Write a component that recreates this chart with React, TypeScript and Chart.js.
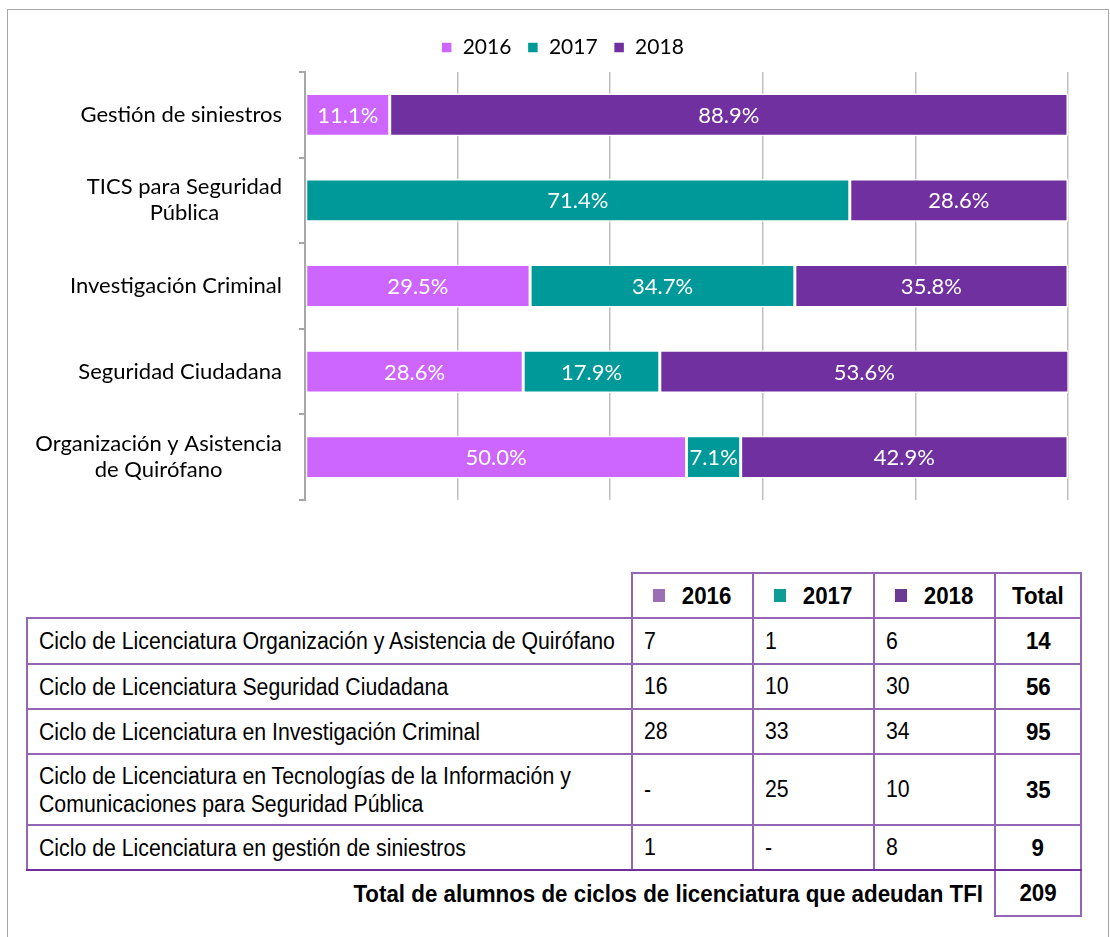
import React, { useEffect, useRef } from "react";
import { Chart, registerables } from "chart.js";

Chart.register(...registerables);

// ---------- Chart data ----------
const categories: string[][] = [
  ["Gestión de siniestros"],
  ["TICS para Seguridad", "Pública"],
  ["Investigación Criminal"],
  ["Seguridad Ciudadana"],
  ["Organización y Asistencia", "de Quirófano"],
];
const seriesNames = ["2016", "2017", "2018"];
const pct2016: (number | null)[] = [11.1, null, 29.5, 28.6, 50.0];
const pct2017: (number | null)[] = [null, 71.4, 34.7, 17.9, 7.1];
const pct2018: (number | null)[] = [88.9, 28.6, 35.8, 53.6, 42.9];
const seriesColors = ["#cc66ff", "#009999", "#7030a0"];
const xMin = 0;
const xMax = 100;
const xStep = 20;

// ---------- Table data ----------
const tableRowNames: string[][] = [
  ["Ciclo de Licenciatura Organización y Asistencia de Quirófano"],
  ["Ciclo de Licenciatura Seguridad Ciudadana"],
  ["Ciclo de Licenciatura en Investigación Criminal"],
  ["Ciclo de Licenciatura en Tecnologías de la Información y", "Comunicaciones para Seguridad Pública"],
  ["Ciclo de Licenciatura en gestión de siniestros"],
];
const count2016: (number | null)[] = [7, 16, 28, null, 1];
const count2017: (number | null)[] = [1, 10, 33, 25, null];
const count2018: (number | null)[] = [6, 30, 34, 10, 8];
const rowTotals = [14, 56, 95, 35, 9];
const grandTotalLabel = "Total de alumnos de ciclos de licenciatura que adeudan TFI";
const grandTotal = 209;
const headerSquareColors = ["#9c6fb4", "#0f9b96", "#6b3a91"];

const CHART_FONT = "Lato, 'Open Sans', sans-serif";
const TABLE_FONT = "'Liberation Sans', Arial, sans-serif";

const valueLabelsPlugin = {
  id: "valueLabels",
  afterDatasetsDraw(chart: any) {
    const ctx = chart.ctx;
    ctx.save();
    ctx.font = `22px ${CHART_FONT}`;
    ctx.fillStyle = "#ffffff";
    ctx.textAlign = "center";
    ctx.textBaseline = "middle";
    chart.data.datasets.forEach((ds: any, di: number) => {
      const meta = chart.getDatasetMeta(di);
      meta.data.forEach((el: any, i: number) => {
        const v = ds.data[i];
        if (v == null) return;
        const p = el.getCenterPoint();
        ctx.fillText(v.toFixed(1) + "%", p.x, p.y + 1);
      });
    });
    ctx.restore();
  },
};

const categoryLabelsPlugin = {
  id: "categoryLabels",
  afterDraw(chart: any) {
    const ctx = chart.ctx;
    const ys = chart.scales.y;
    ctx.save();
    ctx.font = `22px ${CHART_FONT}`;
    ctx.fillStyle = "#000000";
    ctx.textAlign = "center";
    ctx.textBaseline = "middle";
    const lineH = 26;
    categories.forEach((lines, i) => {
      const yc = ys.getPixelForValue(i);
      const w = Math.max(...lines.map((l) => ctx.measureText(l).width));
      const right = ys.right - 23;
      const cx = right - w / 2;
      lines.forEach((l, k) => {
        ctx.fillText(l, cx, yc + (k - (lines.length - 1) / 2) * lineH);
      });
    });
    ctx.restore();
  },
};

// adds a little space between the legend and the plot area
const legendGapPlugin = {
  id: "legendGap",
  afterInit(chart: any) {
    const lg = chart.legend;
    if (!lg || lg.__gapPatched) return;
    const orig = lg.fit.bind(lg);
    lg.fit = () => {
      orig();
      lg.height += 4;
    };
    lg.__gapPatched = true;
  },
};

function BarChart() {
  const ref = useRef<HTMLCanvasElement | null>(null);
  useEffect(() => {
    if (!ref.current) return;
    const chart = new Chart(ref.current, {
      type: "bar",
      data: {
        labels: categories.map((c) => c.join(" ")),
        datasets: seriesNames.map((name, k) => ({
          label: name,
          data: [pct2016, pct2017, pct2018][k],
          backgroundColor: seriesColors[k],
          borderColor: "#ffffff",
          borderWidth: 1.5,
          borderSkipped: false,
          categoryPercentage: 1,
          barPercentage: 0.5,
        })),
      },
      options: {
        indexAxis: "y",
        animation: false,
        responsive: false,
        maintainAspectRatio: false,
        layout: { padding: { left: 57, right: 42, top: 21, bottom: 20 } },
        plugins: {
          legend: {
            display: true,
            position: "top",
            labels: {
              font: { family: CHART_FONT, size: 21 },
              color: "#000000",
              boxWidth: 11,
              boxHeight: 11,
              padding: 16,
            },
          },
          tooltip: { enabled: false },
        },
        scales: {
          x: {
            stacked: true,
            min: xMin,
            max: xMax,
            ticks: { display: false, stepSize: xStep },
            grid: { color: "#bfbfbf", lineWidth: 1.5, drawTicks: false },
            border: { display: false },
          },
          y: {
            stacked: true,
            ticks: { display: false },
            grid: {
              display: true,
              drawOnChartArea: false,
              drawTicks: true,
              tickLength: 6,
              color: "#a6a6a6",
              lineWidth: 2,
            },
            border: { display: true, color: "#a6a6a6", width: 2 },
            afterFit: (s: any) => {
              s.width = 248;
            },
          },
        },
      },
      plugins: [legendGapPlugin, valueLabelsPlugin, categoryLabelsPlugin],
    } as any);
    return () => chart.destroy();
  }, []);
  return <canvas ref={ref} width={1110} height={520} style={{ display: "block", width: 1110, height: 520 }} />;
}

const bc = "2px solid #9466b3";
const lastBc = "2.5px solid #7030a0";
const fmt = (v: number | null) => (v == null ? "-" : String(v));

function Narrow({
  children,
  sx,
  origin,
}: {
  children: React.ReactNode;
  sx: number;
  origin: string;
}) {
  return (
    <span
      style={{
        display: "inline-block",
        whiteSpace: "nowrap",
        transform: `scaleX(${sx})`,
        transformOrigin: origin,
      }}
    >
      {children}
    </span>
  );
}

const REG_SX = 0.925;
const BOLD_SX = 0.93;

export default function App() {
  const rowHeights = [46, 45, 45, 71, 45];
  const countCols = [count2016, count2017, count2018];
  const cellBase: React.CSSProperties = { padding: 0, verticalAlign: "middle", overflow: "visible" };
  return (
    <div style={{ position: "absolute", left: 0, top: 0, width: 1110, height: 937, background: "#fff", overflow: "hidden" }}>
      <div
        style={{
          position: "absolute",
          left: 7,
          top: 9,
          width: 1102,
          height: 980,
          border: "1.5px solid #a6a6a6",
          boxSizing: "border-box",
        }}
      />
      <div style={{ position: "absolute", left: 0, top: 0 }}>
        <BarChart />
      </div>
      <table
        style={{
          position: "absolute",
          left: 26,
          top: 572,
          borderCollapse: "collapse",
          tableLayout: "fixed",
          width: 1054,
          fontFamily: TABLE_FONT,
          fontSize: 23,
          color: "#000",
        }}
      >
        <colgroup>
          <col style={{ width: 605 }} />
          <col style={{ width: 121 }} />
          <col style={{ width: 121 }} />
          <col style={{ width: 121 }} />
          <col style={{ width: 86 }} />
        </colgroup>
        <tbody>
          <tr style={{ height: 45 }}>
            <td style={{ padding: 0 }} />
            {seriesNames.map((n, k) => (
              <td key={n} style={{ ...cellBase, border: bc, textAlign: "center", fontWeight: 700, fontSize: 24 }}>
                <Narrow sx={BOLD_SX} origin="center center">
                  <span
                    style={{
                      display: "inline-block",
                      width: 13,
                      height: 13,
                      background: headerSquareColors[k],
                      marginRight: 18,
                      verticalAlign: "middle",
                      position: "relative",
                      top: -2,
                    }}
                  />
                  {n}
                </Narrow>
              </td>
            ))}
            <td style={{ ...cellBase, border: bc, textAlign: "center", fontWeight: 700, fontSize: 24 }}>
              <Narrow sx={BOLD_SX} origin="center center">Total</Narrow>
            </td>
          </tr>
          {tableRowNames.map((lines, r) => {
            const bottom = r === tableRowNames.length - 1 ? lastBc : bc;
            return (
              <tr key={r} style={{ height: rowHeights[r] }}>
                <td style={{ ...cellBase, border: bc, borderBottom: bottom, paddingLeft: 11, lineHeight: "28px" }}>
                  <Narrow sx={REG_SX} origin="left center">
                    {lines.map((l, k) => (
                      <React.Fragment key={k}>
                        {k > 0 && <br />}
                        {l}
                      </React.Fragment>
                    ))}
                  </Narrow>
                </td>
                {countCols.map((col, c) => (
                  <td key={c} style={{ ...cellBase, border: bc, borderBottom: bottom, paddingLeft: 11 }}>
                    <Narrow sx={REG_SX} origin="left center">
                      {fmt(col[r])}
                    </Narrow>
                  </td>
                ))}
                <td style={{ ...cellBase, border: bc, borderBottom: bottom, textAlign: "center", fontWeight: 700, fontSize: 24 }}>
                  <Narrow sx={BOLD_SX} origin="center center">
                    {rowTotals[r]}
                  </Narrow>
                </td>
              </tr>
            );
          })}
          <tr style={{ height: 46 }}>
            <td colSpan={4} style={{ ...cellBase, textAlign: "right", fontWeight: 700, fontSize: 24, paddingRight: 11 }}>
              <Narrow sx={BOLD_SX} origin="right center">
                {grandTotalLabel}
              </Narrow>
            </td>
            <td style={{ ...cellBase, border: bc, textAlign: "center", fontWeight: 700, fontSize: 24 }}>
              <Narrow sx={BOLD_SX} origin="center center">
                {grandTotal}
              </Narrow>
            </td>
          </tr>
        </tbody>
      </table>
    </div>
  );
}
